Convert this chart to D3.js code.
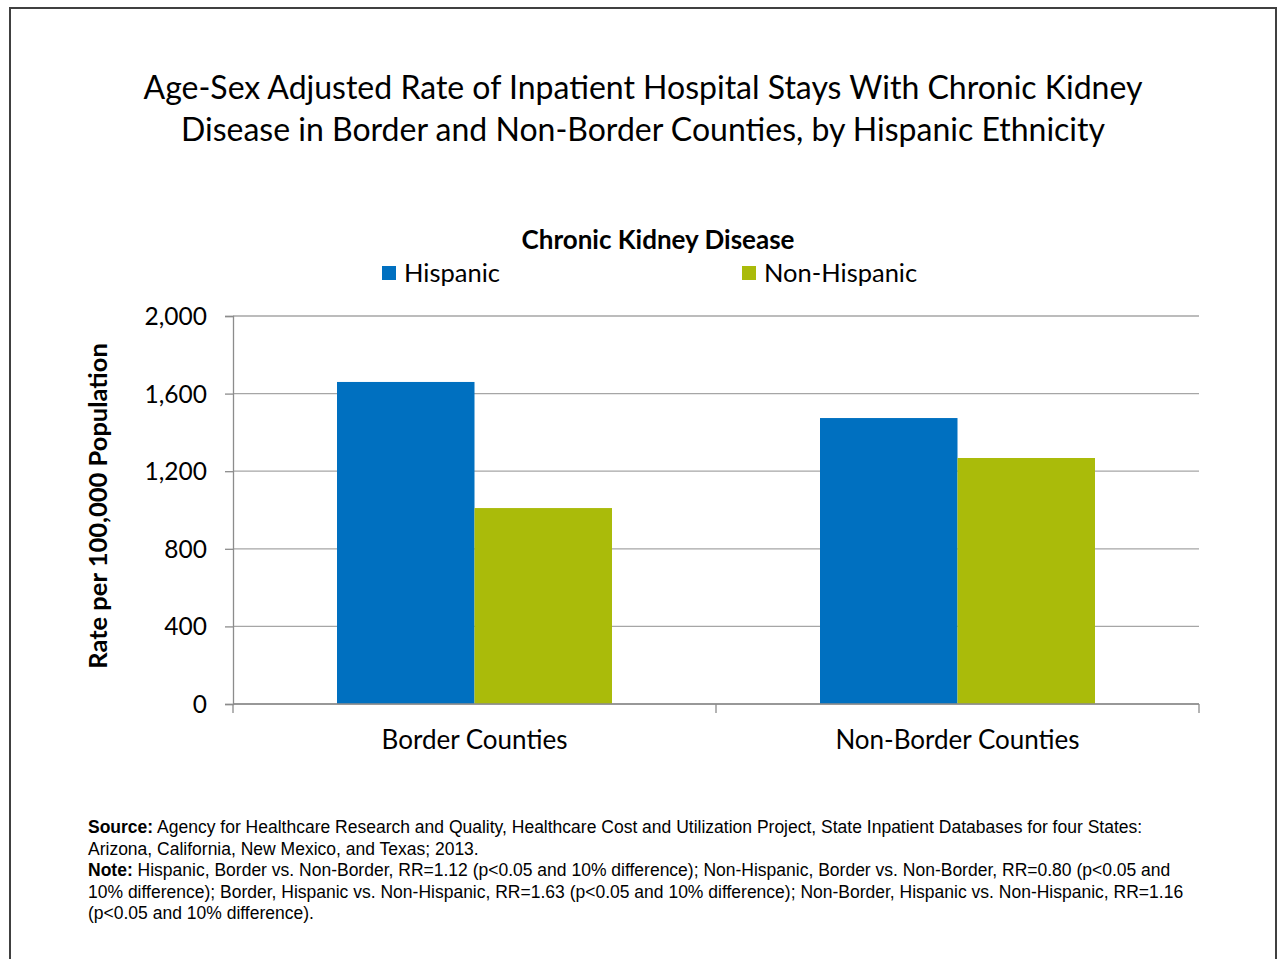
<!DOCTYPE html>
<html>
<head>
<meta charset="utf-8">
<script src="https://cdn.jsdelivr.net/npm/d3@7"></script>
<style>
body { margin: 0; background: #fff; }
svg text { font-family: Lato, "Open Sans", sans-serif; fill: #000; }
.foot { font-family: "Liberation Sans", Arial, sans-serif !important; font-size: 17.5px; }
</style>
</head>
<body>
<div id="chart"></div>
<script>
var categories = ["Border Counties", "Non-Border Counties"]
var seriesNames = ["Hispanic", "Non-Hispanic"]
var hispanic = [1660, 1474]
var nonHispanic = [1010, 1268]
var yTicks = [0, 400, 800, 1200, 1600, 2000]
var titleLines = ["Age-Sex Adjusted Rate of Inpatient Hospital Stays With Chronic Kidney",
                  "Disease in Border and Non-Border Counties, by Hispanic Ethnicity"]
var footLines = [
  [["Source:", true], [" Agency for Healthcare Research and Quality, Healthcare Cost and Utilization Project, State Inpatient Databases for four States:", false]],
  [["Arizona, California, New Mexico, and Texas; 2013.", false]],
  [["Note:", true], [" Hispanic, Border vs. Non-Border, RR=1.12 (p<0.05 and 10% difference); Non-Hispanic, Border vs. Non-Border, RR=0.80 (p<0.05 and", false]],
  [["10% difference); Border, Hispanic vs. Non-Hispanic, RR=1.63 (p<0.05 and 10% difference); Non-Border, Hispanic vs. Non-Hispanic, RR=1.16", false]],
  [["(p<0.05 and 10% difference).", false]]
]
var colors = ["#0070c0", "#aabb0a"]

var width = 1280, height = 959
var svg = d3.select("#chart").append("svg").attr("width", width).attr("height", height)

// outer frame
svg.append("rect").attr("x", 10).attr("y", 8).attr("width", 1266).attr("height", 960)
    .attr("fill", "none").attr("stroke", "#404040").attr("stroke-width", 2)

var margin = {left: 233, right: 81, top: 316, bottom: 255}
var plotW = width - margin.left - margin.right
var plotH = height - margin.top - margin.bottom

var data = categories.map(function(c, i) {
    return {cat: c, values: [hispanic[i], nonHispanic[i]]}
})

var x0 = d3.scaleBand().domain(categories).range([0, plotW]).paddingInner(0).paddingOuter(0)
var x1 = d3.scaleBand().domain(seriesNames).range([104, x0.bandwidth() - 104])
var y = d3.scaleLinear().domain([0, 2000]).range([plotH, 0])

var g = svg.append("g").attr("transform", "translate(" + margin.left + "," + margin.top + ")")

// gridlines
g.selectAll(".grid").data(yTicks).enter().append("line")
    .attr("x1", 0).attr("x2", plotW)
    .attr("y1", function(d) { return y(d) }).attr("y2", function(d) { return y(d) })
    .attr("stroke", "#a6a6a6").attr("stroke-width", 1.3)

// bars
var groups = g.selectAll(".grp").data(data).enter().append("g")
    .attr("transform", function(d) { return "translate(" + x0(d.cat) + ",0)" })
groups.selectAll("rect").data(function(d) { return d.values }).enter().append("rect")
    .attr("x", function(d, i) { return x1(seriesNames[i]) })
    .attr("width", x1.bandwidth())
    .attr("y", function(d) { return y(d) })
    .attr("height", function(d) { return plotH - y(d) })
    .attr("fill", function(d, i) { return colors[i] })

// y axis
var yAxis = g.append("g").call(d3.axisLeft(y).tickValues(yTicks).tickFormat(d3.format(",")).tickSizeOuter(0).tickSize(8).tickPadding(18))
yAxis.select(".domain").attr("stroke", "#8c8c8c").attr("stroke-width", 1.3)
yAxis.selectAll(".tick line").attr("stroke", "#8c8c8c").attr("stroke-width", 1.3)
yAxis.selectAll("text").style("font-size", "24.5px").attr("dy", "0.35em")

// x axis
var xAxis = g.append("g").attr("transform", "translate(0," + plotH + ")")
xAxis.append("line").attr("x1", 0).attr("x2", plotW).attr("stroke", "#8c8c8c").attr("stroke-width", 1.3)
xAxis.selectAll(".xt").data([0, x0.bandwidth(), plotW]).enter().append("line")
    .attr("x1", function(d) { return d }).attr("x2", function(d) { return d })
    .attr("y1", 0).attr("y2", 9).attr("stroke", "#8c8c8c").attr("stroke-width", 1.3)
xAxis.selectAll(".xl").data(categories).enter().append("text")
    .attr("x", function(d) { return x0(d) + x0.bandwidth() / 2 })
    .attr("y", 45).attr("text-anchor", "middle").style("font-size", "26px")
    .text(function(d) { return d })

// y label
svg.append("text").attr("transform", "translate(107," + (margin.top + plotH / 2 - 4) + ") rotate(-90)")
    .attr("text-anchor", "middle").style("font-size", "25.5px").style("font-weight", "bold")
    .text("Rate per 100,000 Population")

// title
svg.selectAll(".title").data(titleLines).enter().append("text")
    .attr("x", 643).attr("y", function(d, i) { return 99 + i * 42 })
    .attr("text-anchor", "middle").style("font-size", "32px")
    .text(function(d) { return d })

// legend
svg.append("text").attr("x", 658).attr("y", 249).attr("text-anchor", "middle")
    .style("font-size", "26px").style("font-weight", "bold").text("Chronic Kidney Disease")
var legX = [382, 742]
var leg = svg.selectAll(".leg").data(seriesNames).enter().append("g")
    .attr("transform", function(d, i) { return "translate(" + legX[i] + ",266)" })
leg.append("rect").attr("width", 14).attr("height", 14).attr("fill", function(d, i) { return colors[i] })
leg.append("text").attr("x", 22).attr("y", 16).style("font-size", "25.5px").text(function(d) { return d })

// footnote
var ft = svg.selectAll(".foot").data(footLines).enter().append("text")
    .attr("class", "foot").attr("x", 88).attr("y", function(d, i) { return 833 + i * 21.5 })
ft.selectAll("tspan").data(function(d) { return d }).enter().append("tspan")
    .style("font-weight", function(d) { return d[1] ? "bold" : "normal" })
    .text(function(d) { return d[0] })
</script>
</body>
</html>
